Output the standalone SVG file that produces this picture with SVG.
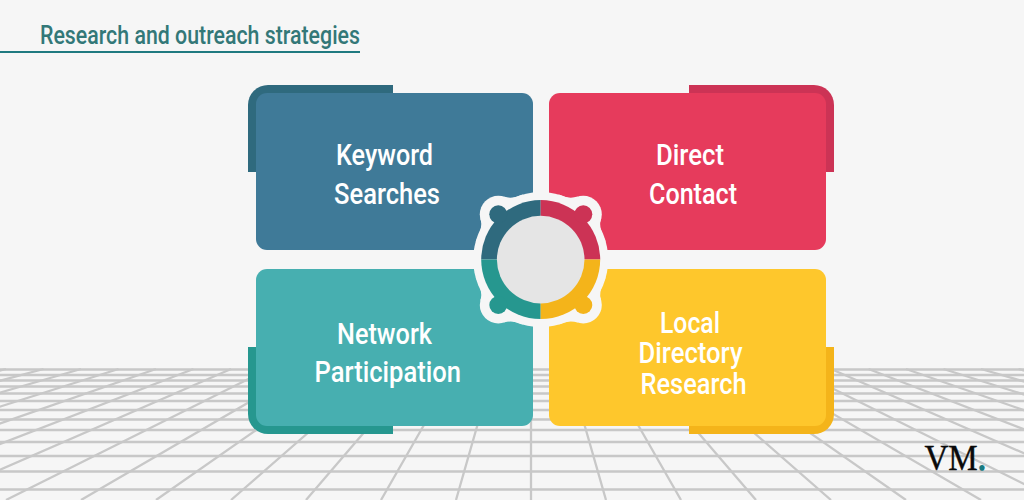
<svg xmlns="http://www.w3.org/2000/svg" width="1024" height="500" viewBox="0 0 1024 500">
<style>
.lbl{font-family:"Roboto","Liberation Sans",Arial,sans-serif;font-weight:500;font-size:29px;fill:#fff}
.grid{stroke:#c8c8c8;stroke-width:2.3;fill:none}
.halo{fill:#f6f6f6}
.blue{fill:#3f7a98}.blueD{fill:#2f6a7e}
.red{fill:#e63b5c}.redD{fill:#cc3355}
.teal{fill:#47afb0}.tealD{fill:#26978f}
.yel{fill:#fec72c}.yelD{fill:#f4b41a}
</style>
<defs>
<path id="fillet" d="M-65 -18Q-57 -33 -60.500 -41L-42 -45L-37 -63Q-28 -60 -18 -65L0 0Z"/>
</defs>
<rect width="1024" height="500" fill="#f6f6f6"/>
<g id="floor" class="grid">
<path d="M0 369.500H1024M0 375H1024M0 380.500H1024M0 386.500H1024M0 393.500H1024M0 401H1024M0 410H1024M0 419.500H1024M0 430H1024M0 442H1024M0 456H1024M0 471.500H1024M0 489.500H1024"/>
<path d="M6 369L-519 500M43.500 369L-444 500M81 369L-369 500M118.500 369L-294 500M156 369L-219 500M193.500 369L-144 500M231 369L-69 500M268.500 369L6 500M306 369L81 500M343.500 369L156 500M381 369L231 500M418.500 369L306 500M456 369L381 500M493.500 369L456 500M531 369L531 500M568.500 369L606 500M606 369L681 500M643.500 369L756 500M681 369L831 500M718.500 369L906 500M756 369L981 500M793.500 369L1056 500M831 369L1131 500M868.500 369L1206 500M906 369L1281 500M943.500 369L1356 500M981 369L1431 500M1018.500 369L1506 500"/>
</g>
<g id="title">
<text x="40" y="44" font-family="Roboto,'Liberation Sans',Arial,sans-serif" font-weight="500" font-size="25" fill="#337878" textLength="320" lengthAdjust="spacingAndGlyphs">Research and outreach strategies</text>
<rect x="0" y="51" width="360" height="2" fill="#1f7a80"/>
</g>
<g id="node-keyword">
<path class="blueD" d="M248 172V105A20 20 0 0 1 268 85H393V172Z"/>
<rect class="blue" x="256" y="93" width="277" height="157" rx="11"/>
<text class="lbl" x="336" y="165" textLength="97" lengthAdjust="spacingAndGlyphs">Keyword</text>
<text class="lbl" x="334" y="203.500" textLength="106" lengthAdjust="spacingAndGlyphs">Searches</text>
</g>
<g id="node-direct">
<path class="redD" d="M689 85H814A20 20 0 0 1 834 105V172H689Z"/>
<rect class="red" x="549" y="93" width="277" height="157" rx="11"/>
<text class="lbl" x="656" y="165" textLength="68" lengthAdjust="spacingAndGlyphs">Direct</text>
<text class="lbl" x="649" y="203.500" textLength="88" lengthAdjust="spacingAndGlyphs">Contact</text>
</g>
<g id="node-network">
<path class="tealD" d="M248 347H393V434H268A20 20 0 0 1 248 414Z"/>
<rect class="teal" x="256" y="269" width="277" height="157" rx="11"/>
<text class="lbl" x="337" y="344" textLength="95" lengthAdjust="spacingAndGlyphs">Network</text>
<text class="lbl" x="314.500" y="382" textLength="146.500" lengthAdjust="spacingAndGlyphs">Participation</text>
</g>
<g id="node-local">
<path class="yelD" d="M689 434H814A20 20 0 0 0 834 414V347H689Z"/>
<rect class="yel" x="549" y="269" width="277" height="157" rx="11"/>
<text class="lbl" x="660" y="332.500" textLength="60" lengthAdjust="spacingAndGlyphs">Local</text>
<text class="lbl" x="638.500" y="363" textLength="104" lengthAdjust="spacingAndGlyphs">Directory</text>
<text class="lbl" x="640.500" y="394" textLength="106" lengthAdjust="spacingAndGlyphs">Research</text>
</g>
<g id="hub">
<circle class="halo" cx="540.700" cy="259.600" r="67.500"/>
<circle class="halo" cx="498.300" cy="214.300" r="18.500"/>
<circle class="halo" cx="583.300" cy="214.300" r="18.500"/>
<circle class="halo" cx="498.300" cy="305" r="18.500"/>
<circle class="halo" cx="583.300" cy="305" r="18.500"/>
<use href="#fillet" class="halo" transform="translate(540.700 259.600)"/>
<use href="#fillet" class="halo" transform="translate(540.700 259.600) scale(-1 1)"/>
<use href="#fillet" class="halo" transform="translate(540.700 259.600) scale(1 -1)"/>
<use href="#fillet" class="halo" transform="translate(540.700 259.600) scale(-1 -1)"/>
<path class="blueD" d="M540.700 259.600V200.100A59.500 59.500 0 0 0 481.200 259.600Z"/>
<path class="redD" d="M540.700 259.600V200.100A59.500 59.500 0 0 1 600.200 259.600Z"/>
<path class="tealD" d="M540.700 259.600V319.100A59.500 59.500 0 0 1 481.200 259.600Z"/>
<path class="yelD" d="M540.700 259.600V319.100A59.500 59.500 0 0 0 600.200 259.600Z"/>
<circle class="blueD" cx="498.300" cy="214.300" r="9"/>
<circle class="redD" cx="583.300" cy="214.300" r="9"/>
<circle class="tealD" cx="498.300" cy="305" r="9"/>
<circle class="yelD" cx="583.300" cy="305" r="9"/>
<circle cx="540.700" cy="259.600" r="43.800" fill="#e5e5e5"/>
</g>
<g id="logo">
<text x="924.500" y="470" font-family="'Liberation Serif','Times New Roman',serif" font-size="35" fill="#0a0a0a" stroke="#0a0a0a" stroke-width="0.4" textLength="61.500" lengthAdjust="spacingAndGlyphs">VM<tspan fill="#1a7a80" stroke="#1a7a80" stroke-width="1.6">.</tspan></text>
</g>
</svg>
